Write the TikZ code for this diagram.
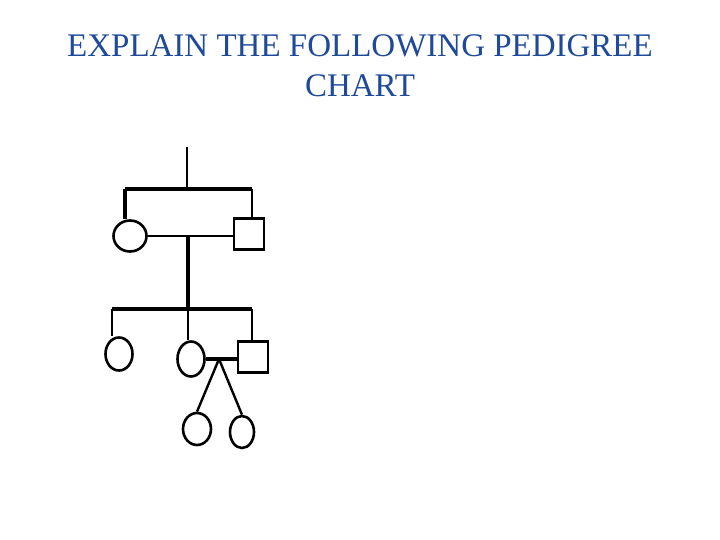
\documentclass[tikz,border=0pt]{standalone}
\usepackage{fontspec}
\setmainfont{Liberation Serif}
\usetikzlibrary{shapes.geometric}
\definecolor{titleblue}{RGB}{31,73,153}
\begin{document}
\begin{tikzpicture}[x=1pt,y=-1pt,
  female/.style={draw,ellipse,line width=2.6pt,inner sep=0pt},
  male/.style={draw,rectangle,line width=2.4pt,inner sep=0pt,minimum width=30pt,minimum height=31pt},
  link/.style={line width=2.4pt},
  thick link/.style={line width=3.2pt}]
\useasboundingbox (0,0) rectangle (720,540);
\node[titleblue,font=\fontsize{33}{40}\selectfont,align=center] (title) at (360,66) {EXPLAIN THE FOLLOWING PEDIGREE\\CHART};
% generation I
\coordinate (top) at (187,147);
\coordinate (sib1) at (187,189);
\coordinate (sib1l) at (125,189);
\coordinate (sib1r) at (252,189);
\node[female,minimum width=33pt,minimum height=31pt] (f1) at (130,236) {};
\node[male] (m1) at (249,234) {};
\draw[link] (top) -- (sib1);
\draw[thick link] (sib1l) -- (sib1r);
\draw[thick link] (sib1l) -- (sib1l |- f1.north);
\draw[link] (sib1r) -- (sib1r |- m1.north);
\draw[link] (f1.east) -- (f1.east -| m1.west);
\coordinate (mar1) at (188,236);
\coordinate (sib2) at (188,309);
\draw[thick link] (mar1) -- (sib2);
% generation II
\coordinate (sib2l) at (112,309);
\coordinate (sib2r) at (252,309);
\node[female,minimum width=27pt,minimum height=33pt] (f2) at (119,354) {};
\node[female,minimum width=27pt,minimum height=35pt] (f3) at (191,359) {};
\node[male] (m2) at (253,357) {};
\draw[thick link] (sib2l) -- (sib2r);
\draw[link] (sib2l) -- (sib2l |- f2.north);
\draw[link] (sib2) -- (sib2 |- f3.north);
\draw[link] (sib2r) -- (sib2r |- m2.north);
\draw[thick link] (f3.east) -- (f3.east -| m2.west);
\coordinate (mar2) at (219,359);
% generation III
\node[female,minimum width=28pt,minimum height=32pt] (c1) at (197,429) {};
\node[female,minimum width=24pt,minimum height=32pt] (c2) at (242,432) {};
\draw[link] (mar2) -- (c1.north);
\draw[link] (mar2) -- (c2.north);
\end{tikzpicture}
\end{document}
